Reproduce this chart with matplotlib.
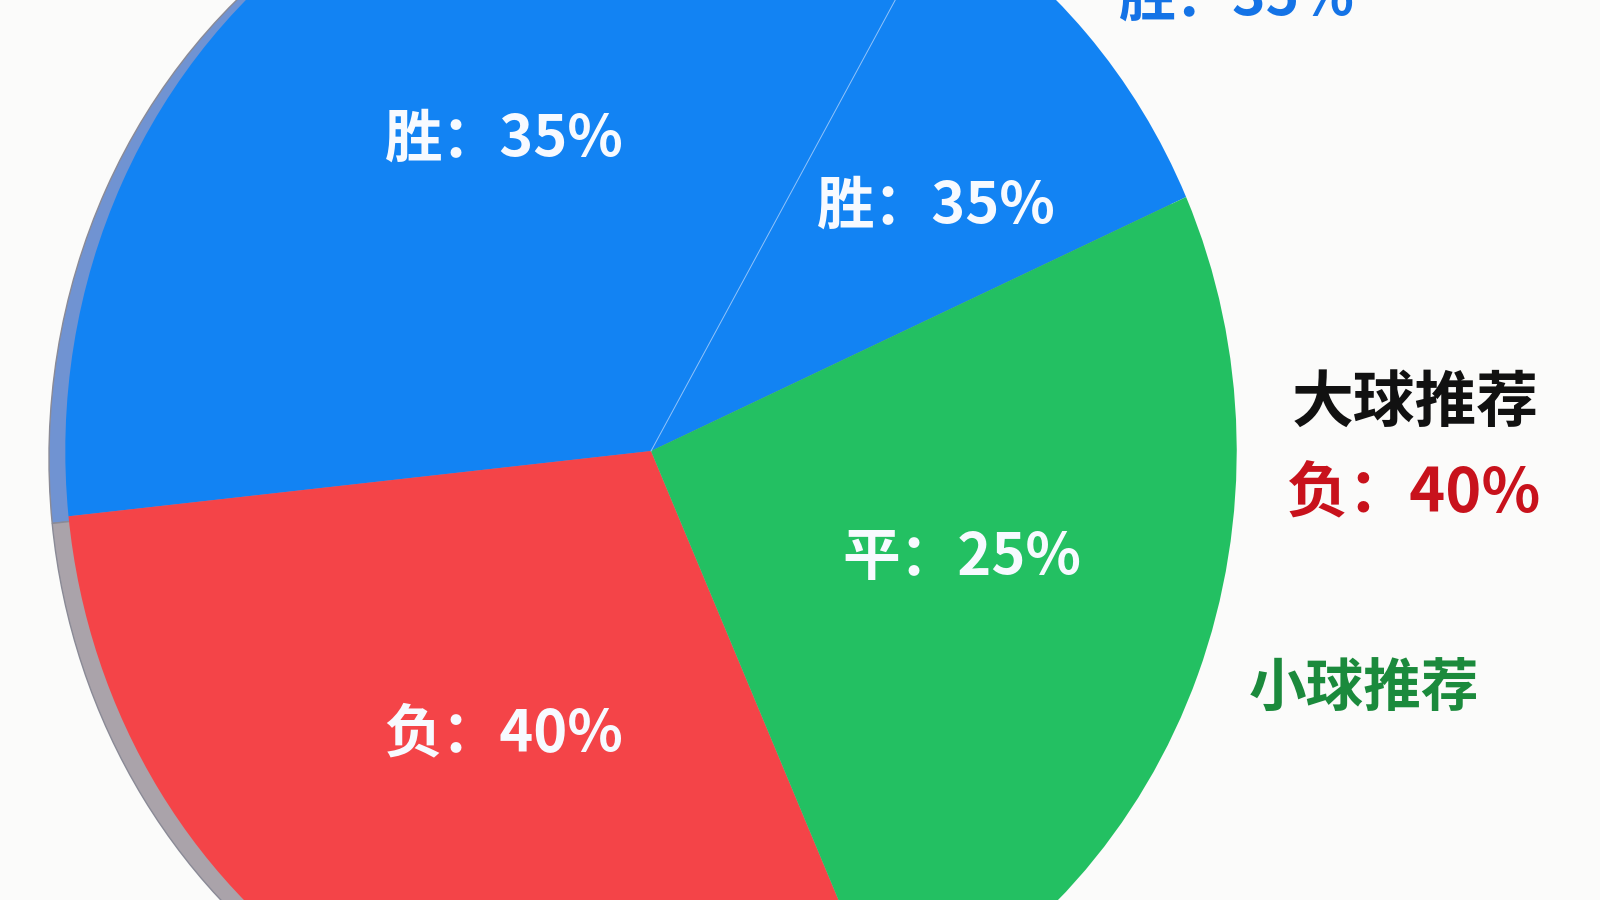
import matplotlib
matplotlib.use("Agg")
import numpy as np
import matplotlib.pyplot as plt

plt.rcParams['font.family'] = ['Noto Sans CJK SC', 'DejaVu Sans']

# slice shares (counter-clockwise from the start angle)
shares = [10, 35, 30, 25]
slice_colors = ["#1283f3", "#1283f3", "#f44448", "#23c062"]
rim_colors = ["#7093d2", "#7093d2", "#aaa3aa", "#a3b8aa"]
start_deg = 24

inner_labels = ["胜：35%", "胜：35%", "负：40%", "平：25%"]
inner_pos = [(918, 203), (494, 137), (494, 720), (943, 547)]

# pixel grid of the reference and the pie's ellipse in it
W, H = 1568, 882
CX, CY, RX, RY = 638, 442, 574, 612


def px(x, y):
    # reference pixel -> pie data coords (unit circle stretched to the ellipse)
    return (x - CX) / RX, (CY - y) / RY


fig = plt.figure(figsize=(16, 9), dpi=100)
fig.patch.set_facecolor("#fbfbfa")
ax = fig.add_axes([0, 0, 1, 1])
ax.set_facecolor("#fbfbfa")

# grey side of the disc, peeking out on the left
ax.pie(shares, colors=rim_colors, startangle=start_deg, radius=1,
       center=(-16 / RX, -7 / RY),
       wedgeprops=dict(linewidth=1.0, edgecolor="#8a8a96"))
# face of the disc
ax.pie(shares, colors=slice_colors, startangle=start_deg, radius=1,
       wedgeprops=dict(linewidth=0))

# faint split line between the two blue slices
a = np.deg2rad(start_deg + shares[0] / sum(shares) * 360)
ax.plot([0, np.cos(a)], [0, np.sin(a)], color="#8fc3fb", lw=0.7, zorder=5)

for txt, (x, y) in zip(inner_labels, inner_pos):
    ax.text(*px(x, y), txt, ha="center", va="center", fontsize=41.5,
            fontweight="bold", color="#f7faff", zorder=6)

# side notes (the top one is cut by the upper edge, as in the source)
ax.text(*px(1212, 15), "胜：35%", ha="center", va="baseline", fontsize=41,
        fontweight="bold", color="#1473e6")
ax.text(*px(1387, 395), "大球推荐", ha="center", va="center", fontsize=44.5,
        fontweight="bold", color="#111111")
ax.text(*px(1385, 485), "负：40%", ha="center", va="center", fontsize=44,
        fontweight="bold", color="#c8121c")
ax.text(*px(1337, 675), "小球推荐", ha="center", va="center", fontsize=41.5,
        fontweight="bold", color="#1b8a3c")

x0, y1 = px(0, 0)
x1, y0 = px(W, H)
ax.set_xlim(x0, x1)
ax.set_ylim(y0, y1)
ax.set_aspect("auto")
ax.axis("off")

fig.savefig("out.png", dpi=100, facecolor=fig.get_facecolor())
